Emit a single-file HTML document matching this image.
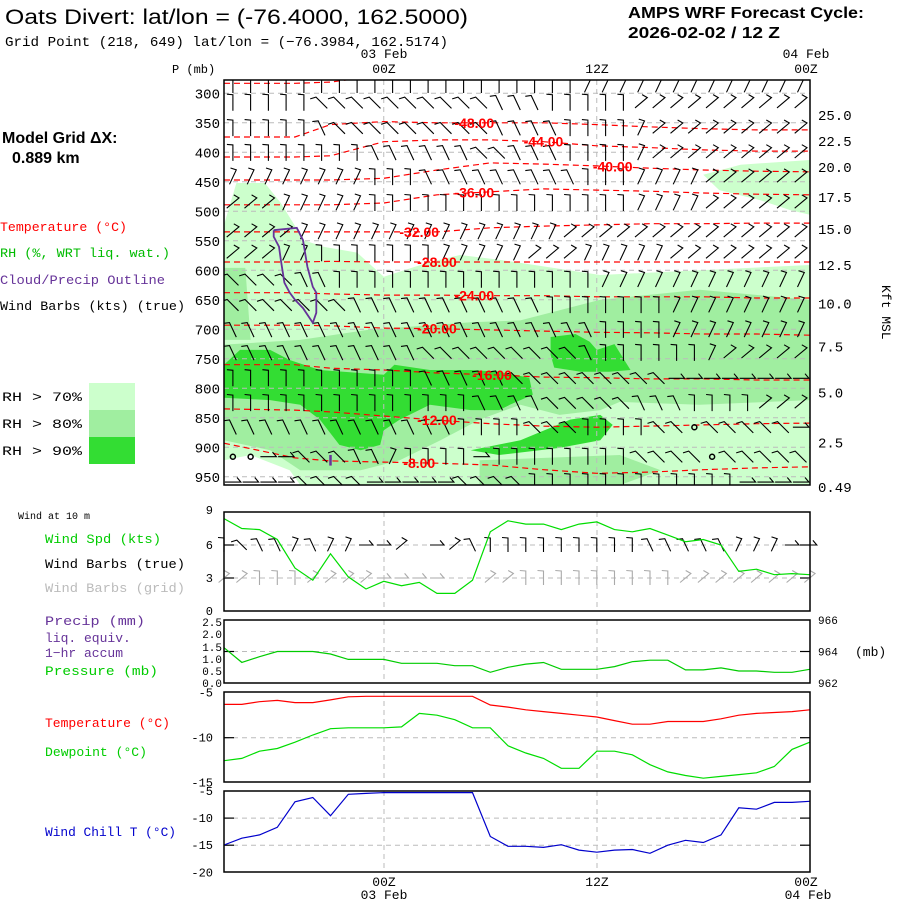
<!DOCTYPE html>
<html><head><meta charset="utf-8"><style>
html,body{margin:0;padding:0;background:#fff;}
svg{display:block;}
text{font-family:"Liberation Mono",monospace;}
.sans{font-family:"Liberation Sans",sans-serif;}
</style></head><body>
<svg id="chart" width="900" height="900" viewBox="0 0 900 900" xmlns="http://www.w3.org/2000/svg">
<rect x="0" y="0" width="900" height="900" fill="#fff"/>
<g id="hdr">
<text class="sans" x="5" y="24" font-size="21" textLength="463" lengthAdjust="spacingAndGlyphs">Oats Divert:  lat/lon = (-76.4000, 162.5000)</text>
<text x="5" y="46" font-size="14" textLength="443" lengthAdjust="spacingAndGlyphs">Grid Point (218, 649) lat/lon = (−76.3984, 162.5174)</text>
<text class="sans" x="628" y="18" font-size="16" font-weight="bold" textLength="236" lengthAdjust="spacingAndGlyphs">AMPS WRF Forecast Cycle:</text>
<text class="sans" x="628" y="38" font-size="16" font-weight="bold" textLength="152" lengthAdjust="spacingAndGlyphs">2026-02-02 / 12  Z</text>
<text class="sans" x="2" y="143" font-size="16" font-weight="bold">Model Grid ΔX:</text>
<text class="sans" x="12" y="163" font-size="16" font-weight="bold">0.889 km</text>
</g>
<g id="legend" font-size="13">
<text x="0" y="231" fill="#ff0000" textLength="127" lengthAdjust="spacingAndGlyphs">Temperature (°C)</text>
<text x="0" y="257" fill="#00bb00" textLength="170" lengthAdjust="spacingAndGlyphs">RH (%, WRT liq. wat.)</text>
<text x="0" y="284" fill="#663399" textLength="165" lengthAdjust="spacingAndGlyphs">Cloud/Precip Outline</text>
<text x="0" y="310" fill="#000" textLength="185" lengthAdjust="spacingAndGlyphs">Wind Barbs (kts) (true)</text>
<text x="2" y="401" textLength="80" lengthAdjust="spacingAndGlyphs">RH &gt; 70%</text>
<text x="2" y="428" textLength="80" lengthAdjust="spacingAndGlyphs">RH &gt; 80%</text>
<text x="2" y="455" textLength="80" lengthAdjust="spacingAndGlyphs">RH &gt; 90%</text>
<rect x="89" y="383" width="46" height="27" fill="#ccffcc"/>
<rect x="89" y="410" width="46" height="27" fill="#a0eea0"/>
<rect x="89" y="437" width="46" height="27" fill="#33dd33"/>
<text x="18" y="519" font-size="10">Wind at 10 m</text>
<text x="45" y="543" fill="#00cc00" textLength="116" lengthAdjust="spacingAndGlyphs">Wind Spd (kts)</text>
<text x="45" y="568" textLength="140" lengthAdjust="spacingAndGlyphs">Wind Barbs (true)</text>
<text x="45" y="592" fill="#bbbbbb" textLength="140" lengthAdjust="spacingAndGlyphs">Wind Barbs (grid)</text>
<text x="45" y="625" fill="#663399" textLength="100" lengthAdjust="spacingAndGlyphs">Precip (mm)</text>
<text x="45" y="642" fill="#663399">liq. equiv.</text>
<text x="45" y="657" fill="#663399">1−hr accum</text>
<text x="45" y="675" fill="#00cc00" textLength="113" lengthAdjust="spacingAndGlyphs">Pressure (mb)</text>
<text x="45" y="727" fill="#ff0000" textLength="125" lengthAdjust="spacingAndGlyphs">Temperature (°C)</text>
<text x="45" y="756" fill="#00cc00" textLength="102" lengthAdjust="spacingAndGlyphs">Dewpoint (°C)</text>
<text x="45" y="836" fill="#0000cc" textLength="131" lengthAdjust="spacingAndGlyphs">Wind Chill T (°C)</text>
</g>
<g id="main"></g>
<g id="lower"></g>
</svg>
<script>
// ---------- data ----------
const hours = [0,1,2,3,4,5,6,7,8,9,10,11,12,13,14,15,16,17,18,19,20,21,22,23,24,25,26,27,28,29,30,31,32,33];
const windSpeed = [8.4,7.5,7.4,6.5,3.9,2.8,5.2,3.1,2.0,2.7,2.3,2.6,1.6,1.6,2.8,7.2,8.2,7.9,7.9,7.4,7.9,8.1,7.4,7.2,7.5,6.9,6.3,6.5,6.0,3.6,3.8,3.3,3.4,3.3];
const surfPressure = [964.24,963.31,963.67,964.0,964.0,964.0,963.84,963.5,963.5,963.5,963.25,963.25,963.25,963.1,963.1,962.68,963.0,963.2,963.3,962.87,962.87,962.87,963.04,963.35,963.45,963.45,962.83,962.83,962.96,962.76,962.76,962.68,962.68,962.87];
const temperature = [-6.3,-6.3,-6.0,-5.85,-6.1,-6.1,-5.8,-5.45,-5.4,-5.4,-5.4,-5.4,-5.4,-5.4,-5.4,-6.37,-6.6,-6.9,-7.1,-7.3,-7.5,-7.7,-8.1,-8.5,-8.5,-8.2,-8.2,-8.2,-7.9,-7.5,-7.3,-7.2,-7.1,-6.9];
const dewpoint = [-12.55,-12.3,-11.5,-11.2,-10.5,-9.7,-9.0,-8.9,-8.9,-8.9,-8.8,-7.3,-7.5,-8.0,-8.9,-8.9,-10.9,-11.7,-12.3,-13.4,-13.4,-11.5,-11.5,-11.9,-13.0,-13.8,-14.2,-14.5,-14.3,-14.1,-13.9,-13.2,-11.3,-10.5];
const windChill = [-14.96,-13.7,-13.1,-11.7,-7.0,-6.2,-9.55,-5.6,-5.45,-5.3,-5.3,-5.3,-5.3,-5.3,-5.3,-13.4,-15.2,-15.2,-15.4,-14.9,-15.9,-16.3,-15.9,-15.8,-16.5,-15.0,-14.1,-14.5,-13.1,-8.1,-8.35,-7.1,-7.1,-6.9];
const sfcBarbsTrue = "vLllrlrrhhR.hRlvvvvvvvvvlllllrrrhhRRR";
const sfcBarbsGrid = "RRvvvRRRRhhhh..RRvvvvvvvvvRRRRRRRRRRhhR";

const pressureTicks = [300,350,400,450,500,550,600,650,700,750,800,850,900,950];
const kftTicks = ["25.0","22.5","20.0","17.5","15.0","12.5","10.0","7.5","5.0","2.5","0.49"];
const kftTickPressures = [337,381,425,476,530,591,656,729,807,892,967];

const contourHours = [0,4,6,9,12,15,18,21,24,27,30,33];
const contourLevels = [-48,-44,-40,-36,-32,-28,-24,-20,-16,-12,-8];
const cM48 = [374,374,353,348,350,350,350,353,357,360,362,362];
const cM44 = [408,408,406,382,379,379,382,389,392,396,398,398];
const cM40 = [447,447,447,444,430,418,420,423,427,430,432,433];
const cM36 = [489,489,489,486,472,467,462,464,466,469,471,472];
const cM32 = [535,535,535,535,535,528,525,523,521,521,520,520];
const cM28 = [586,586,585,586,586,586,586,586,586,586,586,586];
const cM24 = [638,638,640,642,642,643,643,645,645,645,647,647];
const cM20 = [693,693,694,698,699,701,703,705,706,708,708,710];
const cM16 = [760,760,766,769,774,777,781,782,784,784,786,786];
const cM12 = [835,837,840,847,854,860,864,866,864,862,860,859];
const cM8  = [893,918,923,925,927,930,938,944,942,938,935,933];
const contourLabelHours = [14.1,18.0,21.9,14.1,11.0,12.0,14.1,12.0,15.1,12.0,11.0];
const cM52Hours = [0,4,6,7];
const cM52 = [283,283,281,277];

// RH regions as [hour, mb] outlines
const rh70Main = [[0,523],[0.7,452],[2.3,452],[3.2,486],[4.5,549],[5.6,560],[7.5,570],[9,611],[11.6,586],[13.3,574],[15.5,582],[21.2,608],[26.8,600],[33,591],[33,964],[0,964]];
const rh70Upper = [[27,438],[29.1,421],[33,413],[33,506],[31.9,498],[30.2,481],[27.9,464]];
const rhDryPatch = [[0,922],[1.5,913],[3.7,939],[4.3,964],[0,964]];
const rh80Main = [[0,726],[4.3,718],[8.1,701],[13.9,688],[16.7,685],[21.2,650],[26.8,633],[33,650],[33,820],[26.8,828],[22.3,823],[21.2,837],[18.9,845],[16.7,828],[14.4,853],[12.2,888],[9.9,922],[7.7,939],[4.3,939],[2.6,905],[0,888]];
const rh80Left = [[0,596],[1.2,596],[1.5,718],[0,718]];
const rh80Bottom = [[14.4,922],[22.3,913],[24.6,939],[22.3,964],[14.4,964]];
const rh90Main = [[0,760],[0.9,735],[2.6,735],[3.7,752],[5.4,769],[9,777],[9.6,760],[11.6,769],[13.9,769],[15.5,772],[17.2,782],[17.4,811],[16.1,828],[15.5,837],[13.9,837],[11.6,828],[9.9,853],[9,871],[8.8,896],[7.7,905],[6.5,896],[5.4,853],[4.3,828],[2.6,820],[0,816]];
const rh90Mid = [[18.4,713],[19.8,708],[20.6,721],[21,735],[22,725],[22.9,769],[21.7,772],[20.1,772],[18.6,765],[18.4,743]];
const rh90Low = [[13.9,905],[16.7,888],[19.5,853],[21.2,845],[21.9,862],[21.2,888],[18.9,901],[15.5,913]];
const cloudOutline = [[2.8,532],[4.1,528],[4.45,549],[4.7,594],[5.0,628],[5.2,638],[5.2,672],[5.0,689],[4.45,664],[4.0,650],[3.7,638],[3.4,621],[3.2,582],[3.1,560],[2.8,543],[2.8,532]];

const barbRowPressures = [286,316,359,401,442,486,535,571,616,659,701,740,783,825,866,916,959];
const barbRows = [
"vvvvvvvvvvvvvvvvvvvvrrrrrrrrrrrrr",
"vvvvvLLLLLLLLLLlllvvvvvRRRRRRRRRR",
"vvvvvlLLLLLLLLLllllvvvvrRRRRRRRRR",
"vvvvvvvvllllllLLlllvvvvrRRRRRRRRR",
"rrrrrrrrvvvlllllllllvvvrrrrRRRRRR",
"RRRrrrrrvvvvvvvvvvvvvvvrrrrRRRRRR",
"RRRRrrrrrrrrrrrrrrrRRRRRRRRRRRRRR",
"RRRrrvvvvvvvrrrrrRRRrrrrrRRRRRRRR",
"LLLLllvvvvvvvvvvvvvvvrrrrrrrrrrrr",
"LLLLLLLlllllllllllvvvvvvvrrrrrrrr",
"lllllllllllllllllllllvvvvrrrrrrrr",
"lllllllllllLLLLLLLLLlvvvvvvrRRRRR",
"vvvvvvvvvvvlllllLLLLLLLLLhhhhhhhh",
"vvvvvvvvvvvvvvllllLLLLLlllvvvvRRR",
"lllllllllllllvvvvLLLvvvvLLoLLLLLh",
"oohhLLLllrvvvvhvvvvvvvvLLLLoLLLLL",
"hhhhLLLLhhhhhLLLLvvvvvvvvvvvvhhhh"];

// ---------- scales ----------
const X = h => 224 + 17.75*h;
const Yp = p => 93.3 + (p-300)*0.59;
const Yw = v => 611 - 11*v;
const Yps = p => 620 + (966-p)*15.75;
const Yt = t => 692.7 + (-5-t)*9;
const Ywc = t => 791 + (-5-t)*5.42;
const NS = "http://www.w3.org/2000/svg";
function mk(parent, tag, attrs, txt){
  const e = document.createElementNS(NS, tag);
  for (const k in attrs) e.setAttribute(k, attrs[k]);
  if (txt !== undefined) e.textContent = txt;
  parent.appendChild(e); return e;
}
const main = document.getElementById('main');
const lower = document.getElementById('lower');
const ptsStr = arr => arr.map(a => X(a[0]).toFixed(1)+','+Yp(a[1]).toFixed(1)).join(' ');

// ---------- RH shading ----------
const clip = mk(main,'clipPath',{id:'mainclip'});
mk(clip,'rect',{x:224,y:80,width:586,height:405});
const shade = mk(main,'g',{'clip-path':'url(#mainclip)'});


[[rh70Main,'#ccffcc','rh70-region'],[rh70Upper,'#ccffcc','rh70-upper-region'],[rhDryPatch,'#ffffff','rh-dry-patch'],
 [rh80Main,'#a0eea0','rh80-region'],[rh80Left,'#a0eea0','rh80-left-region'],[rh80Bottom,'#a0eea0','rh80-bottom-region'],
 [rh90Main,'#33dd33','rh90-region'],[rh90Mid,'#33dd33','rh90-mid-region'],[rh90Low,'#33dd33','rh90-low-region']].forEach(r=>{
  const e = mk(shade,'polygon',{points:ptsStr(r[0]),fill:r[1]});
  
  
});

// grid lines main
pressureTicks.forEach(p=>{
  const l = mk(main,'line',{x1:224,x2:810,y1:Yp(p),y2:Yp(p),stroke:'#bbbbbb','stroke-dasharray':'5,4','stroke-width':1});
  
  
  const t = mk(main,'text',{x:220,y:Yp(p)+5,'font-size':14,'text-anchor':'end'},String(p));
  
  
});
[9,21].forEach(h=>{
  const l = mk(main,'line',{x1:X(h),x2:X(h),y1:80,y2:485,stroke:'#bbbbbb','stroke-dasharray':'5,4'});
  
  
});
kftTicks.forEach((k,i)=>{
  const t = mk(main,'text',{x:818,y:Yp(kftTickPressures[i])+5,'font-size':14},k);
  
  
});
const kft = mk(main,'text',{x:0,y:0,'font-size':13,transform:'translate(882,285) rotate(90)'},'Kft MSL');


const pmb = mk(main,'text',{x:172,y:73,'font-size':12},'P (mb)');



// ---------- temperature contours ----------
const cg = mk(main,'g',{'clip-path':'url(#mainclip)'});


const contourData = [cM48,cM44,cM40,cM36,cM32,cM28,cM24,cM20,cM16,cM12,cM8];
function interpP(arr, hs, h){
  for (let i=0;i<hs.length-1;i++){ if (h>=hs[i] && h<=hs[i+1]) { const f=(h-hs[i])/(hs[i+1]-hs[i]); return arr[i]+(arr[i+1]-arr[i])*f; } }
  return arr[arr.length-1];
}
contourData.forEach((arr,ci)=>{
  const d = arr.map((p,i)=>(i?'L':'M')+X(contourHours[i]).toFixed(1)+','+Yp(p).toFixed(1)).join(' ');
  const pth = mk(cg,'path',{d:d,fill:'none',stroke:'#ff0000','stroke-width':1.2,'stroke-dasharray':'6,4'});
  
  
});
{
  const d = cM52.map((p,i)=>(i?'L':'M')+X(cM52Hours[i]).toFixed(1)+','+Yp(p).toFixed(1)).join(' ');
  const pth = mk(cg,'path',{d:d,fill:'none',stroke:'#ff0000','stroke-width':1.2,'stroke-dasharray':'6,4'});
  
  
}

// ---------- wind barbs ----------
const ang = {v:0,r:25,l:-25,R:50,L:-45,h:90};
function barb(g, x, y, code, color, len){
  if (code === 'o'){
    const c = mk(g,'circle',{cx:x,cy:y,r:2.5,fill:'none',stroke:color,'stroke-width':1.5});
    
    
    return;
  }
  if (!(code in ang)) return;
  const t = ang[code]*Math.PI/180, s=Math.sin(t), c=Math.cos(t), L=len/2;
  const x1=x-s*L, y1=y+c*L, x2=x+s*L, y2=y-c*L;
  const f = t*0.5 - 85*Math.PI/180;
  const d = 'M'+x1.toFixed(1)+','+y1.toFixed(1)+' L'+x2.toFixed(1)+','+y2.toFixed(1)+' L'+(x2+6*Math.sin(f)).toFixed(1)+','+(y2-6*Math.cos(f)).toFixed(1);
  const p = mk(g,'path',{d:d,fill:'none',stroke:color,'stroke-width':1.1});
  
  
}
const bg = mk(main,'g',{'clip-path':'url(#mainclip)'});


barbRows.forEach((row,ri)=>{
  for (let j=0;j<row.length && j<33;j++) barb(bg, X(0.5+j), Yp(barbRowPressures[ri]), row[j], '#000', 16);
});

// contour labels
contourLevels.forEach((lv,ci)=>{
  const h = contourLabelHours[ci];
  const p = interpP(contourData[ci], contourHours, h);
  const t = mk(main,'text',{x:X(h),y:Yp(p)+5,'font-size':14,'font-weight':'bold',fill:'#ff0000','text-anchor':'middle',class:'sans'},lv.toFixed(2));
  
  
});

// cloud outline
{
  const pl = mk(main,'polyline',{points:ptsStr(cloudOutline),fill:'none',stroke:'#663399','stroke-width':1.8});
  
  
  const st = mk(main,'line',{x1:X(6.0),x2:X(6.0),y1:Yp(913),y2:Yp(931),stroke:'#663399','stroke-width':2.5});
  
  
}
{
  const r = mk(main,'rect',{x:224,y:80,width:586,height:405,fill:'none',stroke:'#000','stroke-width':1.5});
  
  
}

// time labels
[['03 Feb',384,58],['00Z',384,73],['12Z',597,73],['04 Feb',806,58],['00Z',806,73],
 ['00Z',384,886],['03 Feb',384,899],['12Z',597,886],['00Z',806,886],['04 Feb',808,899]].forEach(a=>{
  const t = mk(lower,'text',{x:a[1],y:a[2],'font-size':13,'text-anchor':'middle'},a[0]);
  
  
});

// ---------- lower panels ----------
function panel(name, top, bottom, hLines, leftTicks, rightTicks){
  const g = mk(lower,'g',{});
  
  
  hLines.forEach(y=>{
    const l = mk(g,'line',{x1:224,x2:810,y1:y,y2:y,stroke:'#bbbbbb','stroke-dasharray':'5,4'});
    
    
    const a = mk(g,'line',{x1:224,x2:234,y1:y,y2:y,stroke:'#000','stroke-width':1.2});
    
    
    const b = mk(g,'line',{x1:800,x2:810,y1:y,y2:y,stroke:'#000','stroke-width':1.2});
    
    
  });
  [384,597].forEach(x=>{
    const l = mk(g,'line',{x1:x,x2:x,y1:top,y2:bottom,stroke:'#bbbbbb','stroke-dasharray':'5,4'});
    
    
  });
  leftTicks.forEach(a=>{
    const t = mk(g,'text',{x:a[2]||213,y:a[1]+4,'font-size':a[3]||12,'text-anchor':'end'},a[0]);
    
    
  });
  rightTicks.forEach(a=>{
    const t = mk(g,'text',{x:818,y:a[1]+4,'font-size':11},a[0]);
    
    
  });
  return g;
}
function frame(g, top, bottom){
  const r = mk(g,'rect',{x:224,y:top,width:586,height:bottom-top,fill:'none',stroke:'#000','stroke-width':1.5});
  
  
}
function series(g, vals, yf, color, name){
  const pts = vals.map((v,i)=>X(hours[i]).toFixed(1)+','+yf(v).toFixed(1)).join(' ');
  const pl = mk(g,'polyline',{points:pts,fill:'none',stroke:color,'stroke-width':1.2});
  
  
}
// wind
const gw = panel('wind-panel',512,611,[Yw(6),Yw(3)],[['9',Yw(9)-2],['6',Yw(6)],['3',Yw(3)],['0',Yw(0)]],[]);
for (let i=0;i<hours.length;i++){
  barb(gw, X(hours[i]), Yw(6), sfcBarbsTrue[i]||'.', '#000', 14);
  barb(gw, X(hours[i]), Yw(3), sfcBarbsGrid[i]||'.', '#aaaaaa', 14);
}
series(gw, windSpeed, Yw, '#00dd00', 'wind-speed-line');
frame(gw,512,611);
// pressure
const gp = panel('pressure-panel',620,683,[Yps(964)],
 [['2.5',622,222,11],['2.0',634,222,11],['1.5',647,222,11],['1.0',659,222,11],['0.5',671,222,11],['0.0',683,222,11]],
 [['966',Yps(966)],['964',Yps(964)],['962',Yps(962)]]);
const mbl = mk(gp,'text',{x:855,y:656,'font-size':13},'(mb)');


series(gp, surfPressure, Yps, '#00cc00', 'pressure-line');
frame(gp,620,683);
// temperature
const gt = panel('temperature-panel',692,782,[Yt(-10)],[['-5',Yt(-5)],['-10',Yt(-10)],['-15',Yt(-15)]],[]);
series(gt, temperature, Yt, '#ff0000', 'temperature-line');
series(gt, dewpoint, Yt, '#00dd00', 'dewpoint-line');
frame(gt,692,782);
// wind chill
const gc = panel('wind-chill-panel',791,872,[Ywc(-10),Ywc(-15)],[['-5',Ywc(-5)],['-10',Ywc(-10)],['-15',Ywc(-15)],['-20',Ywc(-20)]],[]);
series(gc, windChill, Ywc, '#0000cc', 'wind-chill-line');
frame(gc,791,872);
</script>
</body></html>
